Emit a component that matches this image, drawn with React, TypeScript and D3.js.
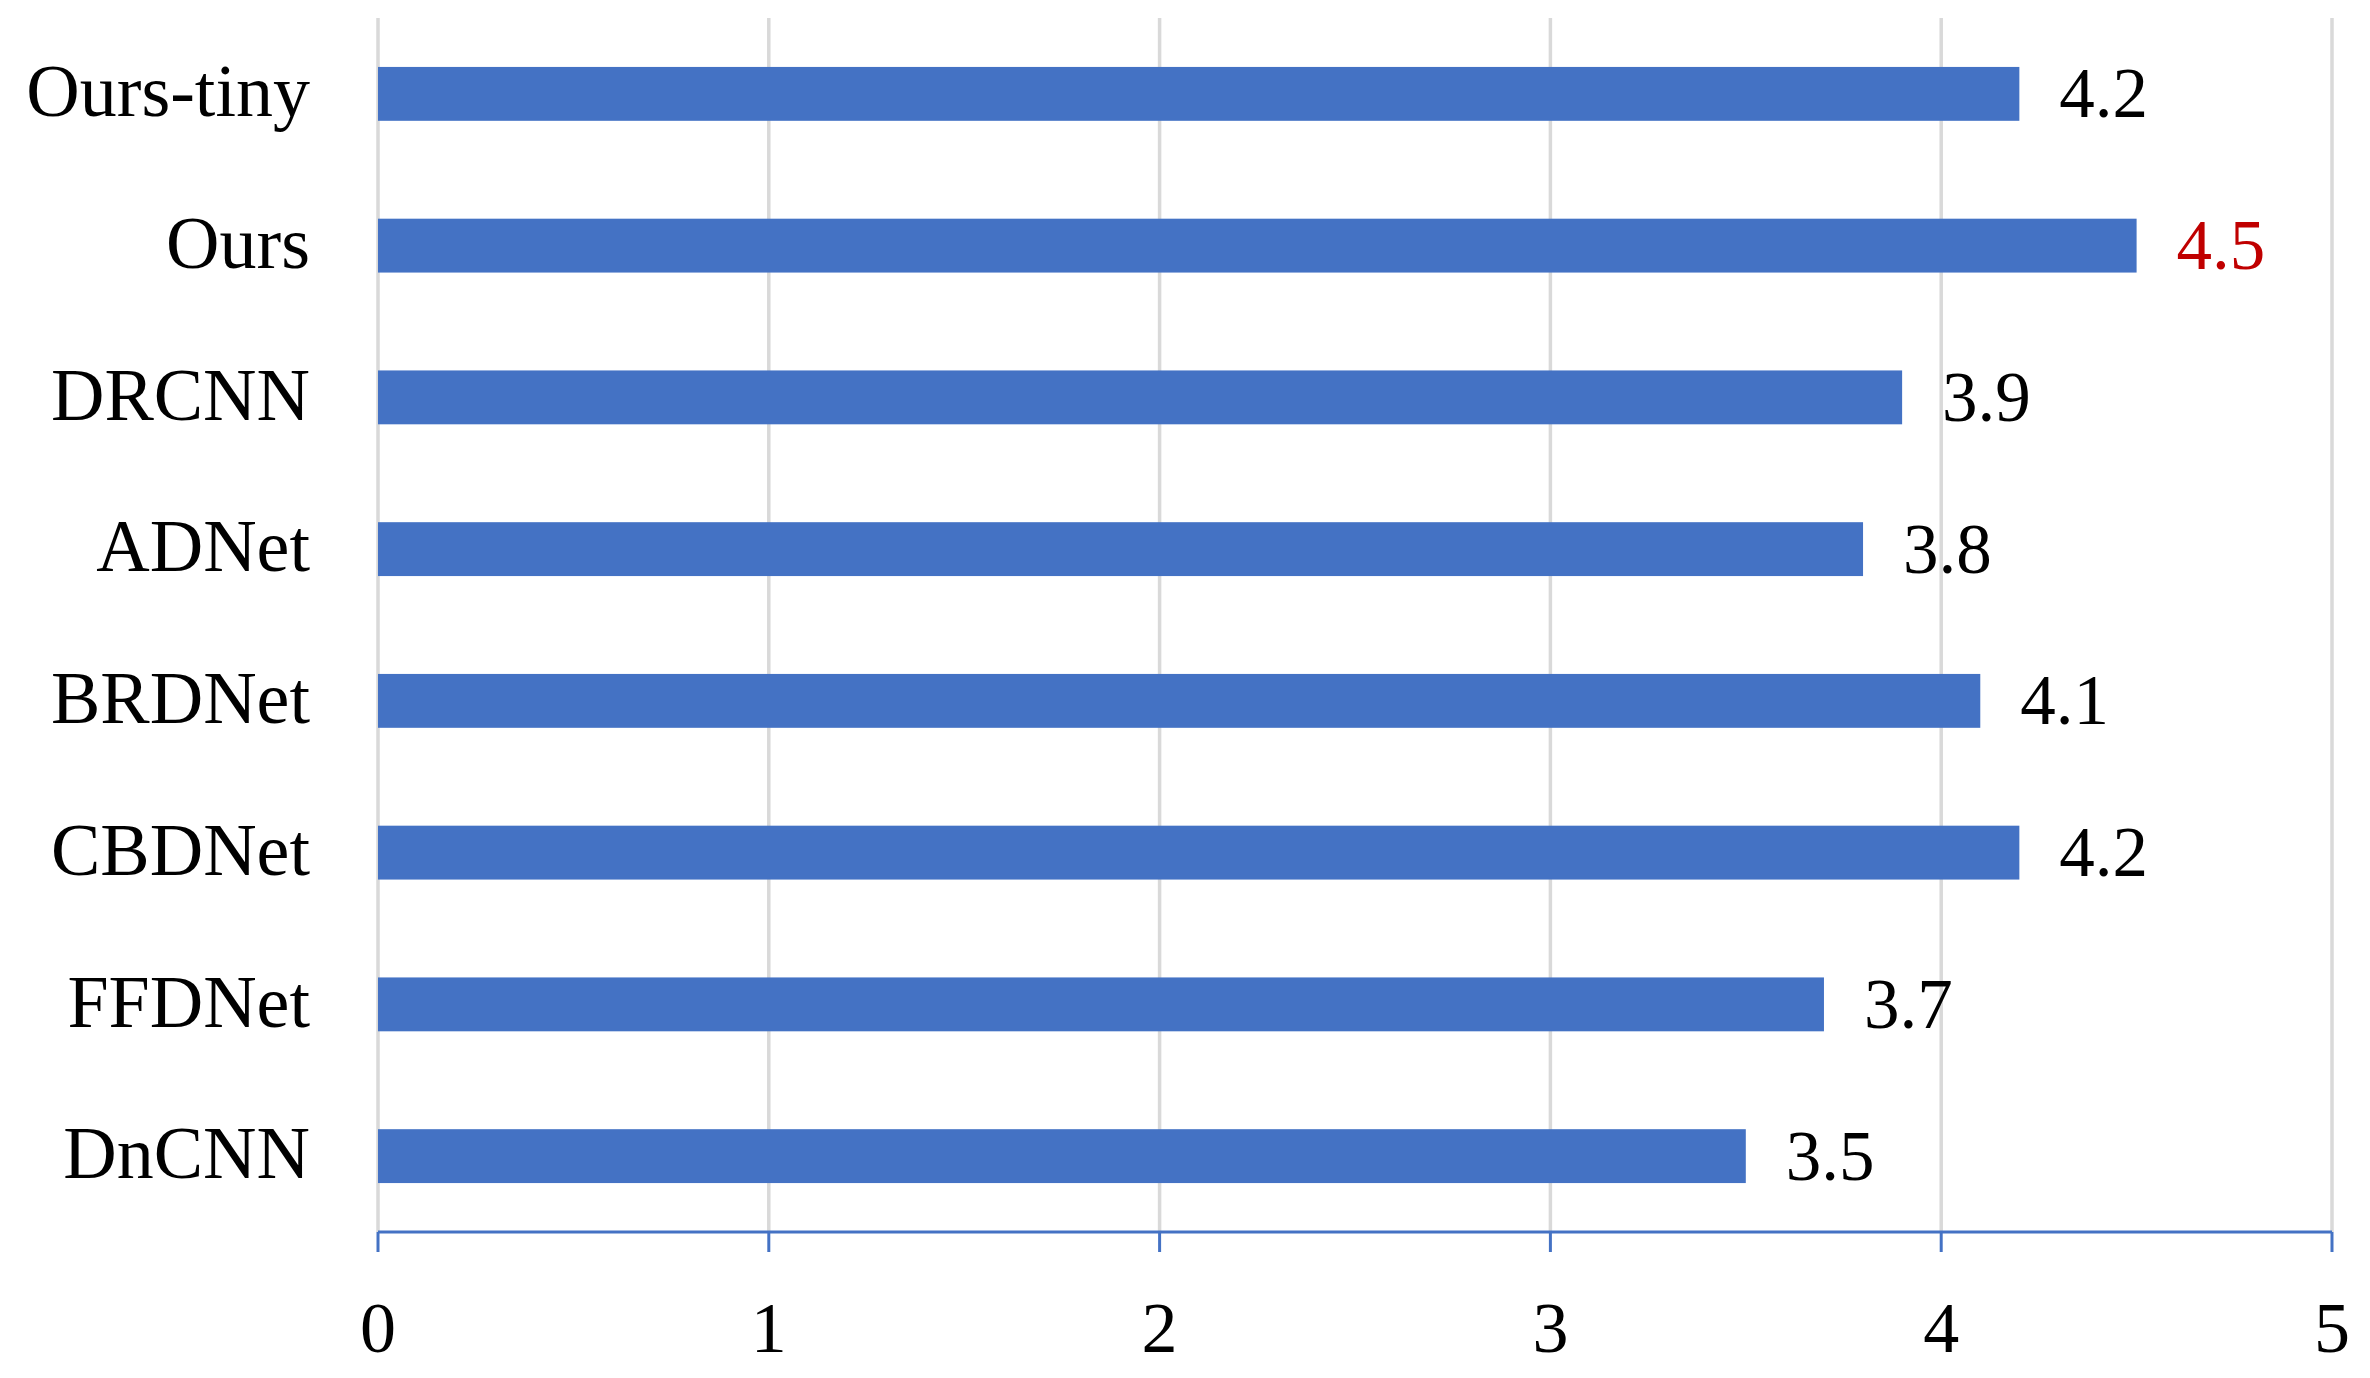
import React, { useEffect, useRef } from "react";
import * as d3 from "d3";

const categories = ["Ours-tiny", "Ours", "DRCNN", "ADNet", "BRDNet", "CBDNet", "FFDNet", "DnCNN"];
const values = [4.2, 4.5, 3.9, 3.8, 4.1, 4.2, 3.7, 3.5];
const highlighted = ["Ours"];
const xTicks = [0, 1, 2, 3, 4, 5];

const W = 2370;
const H = 1378;
const FONT = "'Liberation Serif', 'Times New Roman', serif";

export default function App() {
  const ref = useRef<SVGSVGElement | null>(null);

  useEffect(() => {
    const svg = d3.select(ref.current);
    svg.selectAll("*").remove();

    const left = 378;
    const right = 2332;
    const top = 18;
    const bottom = 1232;

    const x = d3.scaleLinear().domain([0, 5]).range([left, right]);
    const y = d3.scaleBand().domain(categories).range([top, bottom]).paddingInner(0.645).paddingOuter(0.3225);

    // gridlines
    svg.append("g")
      .selectAll("line")
      .data(xTicks)
      .join("line")
      .attr("x1", (d) => x(d))
      .attr("x2", (d) => x(d))
      .attr("y1", top)
      .attr("y2", bottom)
      .attr("stroke", "#D9D9D9")
      .attr("stroke-width", 3.5);

    // bars
    const data = categories.map((c, i) => ({ c, v: values[i] }));
    svg.append("g")
      .selectAll("rect")
      .data(data)
      .join("rect")
      .attr("x", x(0))
      .attr("y", (d) => y(d.c)!)
      .attr("width", (d) => x(d.v) - x(0))
      .attr("height", y.bandwidth())
      .attr("fill", "#4472C4");

    // value labels
    svg.append("g")
      .selectAll("text")
      .data(data)
      .join("text")
      .attr("x", (d) => x(d.v) + 40)
      .attr("y", (d) => y(d.c)! + y.bandwidth() / 2)
      .attr("dy", "0.33em")
      .attr("font-family", FONT)
      .attr("font-size", 71)
      .attr("fill", (d) => (highlighted.includes(d.c) ? "#C00000" : "#000000"))
      .text((d) => d3.format(".1f")(d.v));

    // category labels
    svg.append("g")
      .selectAll("text")
      .data(categories)
      .join("text")
      .attr("x", 310)
      .attr("y", (d) => y(d)! + y.bandwidth() / 2)
      .attr("dy", "0.3em")
      .attr("text-anchor", "end")
      .attr("font-family", FONT)
      .attr("font-size", 74)
      .attr("fill", "#000")
      .text((d) => d);

    // x axis
    const axis = svg.append("g").attr("transform", `translate(0,${bottom})`);
    axis.append("line")
      .attr("x1", x(0))
      .attr("x2", x(5))
      .attr("y1", 0)
      .attr("y2", 0)
      .attr("stroke", "#4472C4")
      .attr("stroke-width", 3);
    axis.selectAll("line.tick")
      .data(xTicks)
      .join("line")
      .attr("class", "tick")
      .attr("x1", (d) => x(d))
      .attr("x2", (d) => x(d))
      .attr("y1", 0)
      .attr("y2", 20)
      .attr("stroke", "#4472C4")
      .attr("stroke-width", 3);
    axis.selectAll("text")
      .data(xTicks)
      .join("text")
      .attr("x", (d) => x(d))
      .attr("y", 95)
      .attr("dy", "0.35em")
      .attr("text-anchor", "middle")
      .attr("font-family", FONT)
      .attr("font-size", 72)
      .attr("fill", "#000")
      .text((d) => String(d));
  }, []);

  return (
    <svg
      ref={ref}
      width={W}
      height={H}
      style={{ position: "absolute", left: 0, top: 0, background: "#fff", display: "block" }}
    />
  );
}
